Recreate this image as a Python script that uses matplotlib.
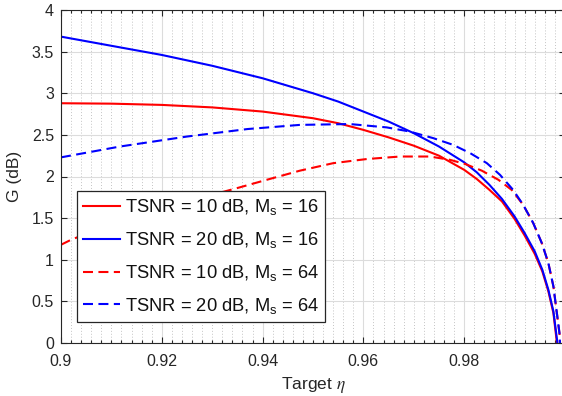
import numpy as np
import matplotlib.pyplot as plt
from matplotlib.ticker import MultipleLocator

plt.rcParams['font.family'] = ['Liberation Sans', 'DejaVu Sans']
plt.rcParams['mathtext.fontset'] = 'custom'
plt.rcParams['mathtext.rm'] = 'Liberation Sans'
plt.rcParams['mathtext.it'] = 'Liberation Sans:italic'

# values
eta_20_16 = [0.900, 0.910, 0.920, 0.930, 0.940, 0.950, 0.955, 0.960, 0.965, 0.970,
             0.975, 0.980, 0.9825, 0.985, 0.9875, 0.990, 0.992, 0.994, 0.9955,
             0.9967, 0.9977, 0.9985]
g_20_16 = [3.68, 3.57, 3.46, 3.33, 3.18, 3.00, 2.90, 2.78, 2.66, 2.52,
           2.36, 2.17, 2.05, 1.90, 1.73, 1.52, 1.32, 1.10, 0.88, 0.64, 0.38, 0.0]

eta_10_16 = [0.900, 0.910, 0.920, 0.930, 0.940, 0.950, 0.955, 0.960, 0.965, 0.970,
             0.975, 0.980, 0.9825, 0.985, 0.9875, 0.990, 0.992, 0.994, 0.9955,
             0.9967, 0.9977, 0.9984]
g_10_16 = [2.88, 2.875, 2.86, 2.83, 2.78, 2.70, 2.64, 2.56, 2.47, 2.37,
           2.25, 2.08, 1.97, 1.84, 1.70, 1.49, 1.29, 1.07, 0.86, 0.62, 0.36, 0.0]

eta_10_64 = [0.900, 0.902, 0.910, 0.920, 0.930, 0.9355, 0.9408, 0.9474, 0.954, 0.9607,
             0.9673, 0.9732, 0.9772, 0.9802, 0.9835, 0.9868, 0.9894, 0.9917, 0.9937,
             0.9954, 0.9967, 0.9977, 0.9983, 0.9989, 0.9990]
g_10_64 = [1.18, 1.24, 1.43, 1.62, 1.78, 1.87, 1.96, 2.07, 2.16, 2.21,
           2.24, 2.24, 2.20, 2.15, 2.07, 1.96, 1.84, 1.66, 1.44,
           1.20, 0.96, 0.68, 0.40, 0.12, 0.0]

eta_20_64 = [0.900, 0.9117, 0.925, 0.937, 0.9474, 0.9573, 0.9646, 0.9692, 0.9739, 0.9778,
             0.9812, 0.9845, 0.9871, 0.9897, 0.9917, 0.9937, 0.9954, 0.9967, 0.9977,
             0.9983, 0.9989, 0.9990]
g_20_64 = [2.23, 2.36, 2.48, 2.57, 2.62, 2.63, 2.59, 2.54, 2.46, 2.38,
           2.28, 2.16, 2.02, 1.84, 1.66, 1.44, 1.20, 0.96, 0.68, 0.40, 0.12, 0.0]

labels = [r'TSNR = 10 dB, M$_\mathrm{s}$ = 16',
          r'TSNR = 20 dB, M$_\mathrm{s}$ = 16',
          r'TSNR = 10 dB, M$_\mathrm{s}$ = 64',
          r'TSNR = 20 dB, M$_\mathrm{s}$ = 64']

dark = '#262626'
fig = plt.figure(figsize=(5.62, 3.96), dpi=100)
ax = fig.add_axes([61 / 562, 53 / 396, 504 / 562, 333 / 396])

ax.plot(eta_10_16, g_10_16, color='red', lw=1.5, label=labels[0])
ax.plot(eta_20_16, g_20_16, color='blue', lw=1.5, label=labels[1])
ax.plot(eta_10_64, g_10_64, color='red', lw=1.5, dashes=(4.8, 2.6), label=labels[2])
ax.plot(eta_20_64, g_20_64, color='blue', lw=1.5, dashes=(4.8, 2.6), label=labels[3])

ax.set_xlim(0.9, 1.0)
ax.set_ylim(0, 4)
ax.xaxis.set_minor_locator(MultipleLocator(0.002))
ax.set_xticks(np.arange(0.9, 1.001, 0.02))
ax.set_xticklabels(['0.9', '0.92', '0.94', '0.96', '0.98', '1'])
ax.set_yticks(np.arange(0, 4.01, 0.5))
ax.set_yticklabels(['0', '0.5', '1', '1.5', '2', '2.5', '3', '3.5', '4'])

ax.grid(which='major', color='#dcdcdc', lw=0.8, ls='-')
ax.grid(which='minor', axis='x', color='#c4c4c4', lw=0.7, ls=(0, (1, 2)))
ax.set_axisbelow(True)

ax.tick_params(which='both', direction='in', top=True, right=True, colors=dark,
               labelsize=11.5, width=0.8)
ax.tick_params(which='major', length=4.5)
ax.tick_params(which='minor', length=2.5)
ax.tick_params(axis='x', which='major', pad=8)
ax.tick_params(axis='y', which='major', pad=5)
for s in ax.spines.values():
    s.set_color(dark)
    s.set_linewidth(0.8)

ax.set_xlabel(r'Target $\eta$', fontsize=12.5, color=dark, math_fontfamily='stix', labelpad=4)
ax.set_ylabel('G (dB)', fontsize=12.5, color=dark, labelpad=7)

leg = ax.legend(loc='upper left', bbox_to_anchor=(0.0317, 0.4565), borderaxespad=0,
                fontsize=13.2, handlelength=2.0, handletextpad=0.25, labelspacing=0.7,
                borderpad=0.35, fancybox=False, framealpha=1, edgecolor=dark)
leg.get_frame().set_linewidth(0.9)
for t in leg.get_texts():
    t.set_color('#111111')

fig.savefig('out.png', dpi=100)
